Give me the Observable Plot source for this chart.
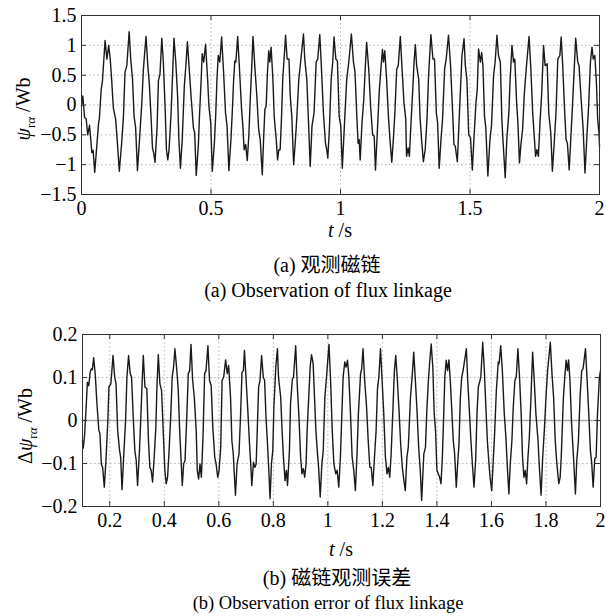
<!DOCTYPE html>
<html><head><meta charset="utf-8">
<script src="https://cdn.jsdelivr.net/npm/d3@7"></script>
<script src="https://cdn.jsdelivr.net/npm/@observablehq/plot@0.6"></script>
<style>
html,body{margin:0;padding:0;background:#fff;}
#root{position:relative;width:607px;height:616px;overflow:hidden;font-family:"Liberation Serif","Times New Roman",serif;color:#000;}
.abs{position:absolute;white-space:nowrap;transform:translate(-50%,-50%);font-size:20px;line-height:1;}
.rot{transform:translate(-50%,-50%) rotate(-90deg);}
.cjk{font-family:"Liberation Serif","Noto Sans CJK SC",serif;}
.sub{font-size:13px;position:relative;top:5px;}
.small{font-size:18.5px;}
.plot{position:absolute;left:0;}
</style></head><body><div id="root"></div>
<script>
// (a) observed flux linkage, [t (s), psi (Wb)]
const fluxPart1 = [[0.000,-0.02],[0.005,0.15],[0.012,-0.21],[0.018,-0.23],[0.024,-0.50],[0.031,-0.34],[0.040,-0.80],[0.045,-0.76],[0.051,-1.13],[0.059,-0.69],[0.066,-0.30],[0.069,-0.23],[0.076,0.26],[0.081,0.41],[0.091,1.08],[0.098,0.77],[0.105,1.00],[0.111,0.77],[0.117,0.38],[0.123,-0.05],[0.132,-0.24],[0.139,-0.66],[0.146,-1.11],[0.155,-0.64],[0.162,-0.19],[0.168,0.55],[0.175,0.66],[0.184,1.23],[0.190,0.77],[0.197,0.43],[0.203,-0.19],[0.209,-0.38],[0.216,-1.10],[0.224,-0.58],[0.233,0.04],[0.239,0.60],[0.249,1.15],[0.256,0.66],[0.262,0.35],[0.269,-0.24],[0.274,-0.72],[0.279,-0.81],[0.284,-0.96],[0.292,-0.35],[0.297,0.41],[0.303,0.52],[0.310,1.12],[0.316,0.72],[0.323,-0.07],[0.328,-0.75],[0.333,-0.92],[0.338,-0.75],[0.346,-0.13],[0.351,0.43],[0.357,1.12],[0.364,0.72],[0.371,0.15],[0.376,-0.58],[0.382,-1.06],[0.389,-0.58],[0.397,0.32],[0.402,0.60],[0.409,1.06],[0.415,0.66],[0.423,0.15],[0.432,-0.38],[0.437,-0.47],[0.443,-1.18],[0.451,-0.69],[0.456,-0.13],[0.461,0.32],[0.466,0.86],[0.472,0.72],[0.479,1.02],[0.487,0.43],[0.492,-0.02],[0.499,-0.30],[0.505,-1.11],[0.513,-0.64],[0.518,-0.19],[0.523,0.43],[0.528,0.83],[0.534,0.72],[0.541,1.14],[0.549,0.52],[0.556,-0.13],[0.562,-0.35],[0.569,-1.10],[0.577,-0.58],[0.582,-0.13],[0.587,0.38],[0.592,0.74],[0.596,0.72],[0.603,1.15],[0.610,0.60],[0.618,-0.07],[0.623,-0.35],[0.628,-0.75],[0.634,-0.66],[0.640,-0.93],[0.646,-0.52],[0.651,0.04],[0.657,0.60],[0.662,1.15]];
const fluxPart2 = [[0.669,0.66],[0.677,0.15],[0.684,-0.41],[0.690,-0.58],[0.698,-1.17],[0.703,-0.58],[0.708,-0.07],[0.713,-0.02],[0.718,0.55],[0.723,0.91],[0.727,0.72],[0.732,0.97],[0.739,0.43],[0.744,-0.19],[0.752,-0.58],[0.757,-0.92],[0.762,-0.75],[0.767,-0.75],[0.772,-0.24],[0.777,0.43],[0.783,0.83],[0.788,1.17],[0.794,0.77],[0.801,0.77],[0.806,0.15],[0.812,-0.19],[0.819,-1.00],[0.826,-0.58],[0.831,-0.24],[0.839,0.43],[0.846,0.72],[0.857,1.19],[0.862,0.77],[0.870,0.43],[0.876,-0.24],[0.883,-1.03],[0.890,-0.35],[0.898,-0.13],[0.906,0.72],[0.912,0.77],[0.920,1.18],[0.926,0.66],[0.934,-0.13],[0.942,-0.64],[0.947,-0.75],[0.951,-0.89],[0.957,-0.41],[0.964,0.43],[0.970,0.72],[0.975,1.14],[0.982,0.77],[0.988,0.74],[0.995,-0.19],[1.001,-0.35],[1.007,-1.06],[1.015,-0.35],[1.024,0.43],[1.032,0.72],[1.042,1.19],[1.050,0.72],[1.056,0.55],[1.063,-0.19],[1.068,-0.64],[1.072,-0.58],[1.076,-0.92],[1.083,-0.30],[1.090,0.10],[1.095,0.57],[1.101,1.05],[1.109,0.60],[1.117,-0.07],[1.124,-0.50],[1.130,-0.52],[1.135,-1.09],[1.142,-0.47],[1.150,0.26],[1.157,0.66],[1.162,0.93],[1.166,0.72],[1.171,0.91],[1.178,0.43],[1.185,-0.19],[1.191,-0.58],[1.198,-0.96],[1.204,-0.58],[1.210,-0.13],[1.217,0.60],[1.223,0.66],[1.231,1.15],[1.237,0.66],[1.245,0.04],[1.252,-0.24],[1.255,-0.86],[1.261,-0.72],[1.266,-0.86],[1.273,-0.24],[1.279,0.26],[1.284,0.72],[1.289,1.01],[1.294,0.66],[1.302,0.43],[1.307,-0.19],[1.313,-0.58],[1.320,-0.95]];
const fluxPart3 = [[1.327,-0.75],[1.334,-0.24],[1.340,0.49],[1.349,1.18],[1.357,0.77],[1.363,0.77],[1.370,-0.13],[1.375,-0.30],[1.381,-1.06],[1.388,-0.58],[1.394,-0.24],[1.402,0.60],[1.408,0.77],[1.417,1.17],[1.425,0.66],[1.433,-0.13],[1.438,-0.66],[1.443,-0.69],[1.451,-0.95],[1.456,-0.47],[1.462,0.15],[1.469,0.83],[1.477,1.11],[1.482,0.66],[1.488,0.43],[1.495,-0.50],[1.502,-0.55],[1.509,-1.09],[1.515,-0.58],[1.523,0.04],[1.528,0.26],[1.533,0.94],[1.540,0.72],[1.545,0.88],[1.550,0.66],[1.556,-0.19],[1.561,-0.38],[1.569,-1.19],[1.577,-0.58],[1.583,-0.35],[1.591,0.49],[1.597,0.72],[1.604,1.17],[1.610,0.83],[1.617,0.72],[1.623,-0.24],[1.628,-0.64],[1.636,-1.22],[1.642,-0.58],[1.650,-0.13],[1.655,0.43],[1.662,1.00],[1.668,0.72],[1.673,0.77],[1.680,0.04],[1.685,-0.30],[1.691,-0.97],[1.696,-0.69],[1.703,-0.41],[1.710,0.21],[1.717,0.60],[1.728,1.15],[1.735,0.60],[1.742,-0.13],[1.748,-0.52],[1.753,-0.86],[1.758,-0.75],[1.764,-0.86],[1.771,-0.24],[1.777,0.21],[1.784,1.00],[1.790,0.66],[1.798,0.69],[1.804,-0.13],[1.812,-0.47],[1.818,-1.11],[1.826,-0.58],[1.832,-0.13],[1.839,0.77],[1.847,0.83],[1.852,1.14],[1.858,0.66],[1.865,-0.07],[1.871,-0.58],[1.876,-0.64],[1.883,-1.09],[1.889,-0.58],[1.895,-0.07],[1.903,0.66],[1.908,1.12],[1.916,0.72],[1.921,0.66],[1.929,0.10],[1.937,-0.41],[1.944,-1.14],[1.952,-0.47],[1.958,-0.02],[1.965,0.72],[1.971,0.97],[1.976,0.77],[1.982,0.83],[1.988,0.38],[1.993,-0.24],[1.998,-0.47],[2.000,-0.70]];

// (b) flux observation error, [t (s), delta psi (Wb)]
const errPart1 = [[0.100,-0.047],[0.103,-0.064],[0.108,-0.031],[0.114,0.039],[0.118,0.089],[0.123,0.081],[0.128,0.112],[0.132,0.120],[0.136,0.118],[0.141,0.146],[0.147,0.105],[0.153,0.039],[0.160,-0.023],[0.164,-0.031],[0.169,-0.101],[0.174,-0.110],[0.180,-0.155],[0.186,-0.093],[0.193,0.000],[0.197,0.078],[0.204,0.085],[0.212,0.151],[0.218,0.101],[0.223,0.085],[0.229,-0.023],[0.236,-0.070],[0.240,-0.085],[0.245,-0.161],[0.251,-0.085],[0.258,0.000],[0.263,0.101],[0.269,0.151],[0.275,0.109],[0.280,0.101],[0.286,0.008],[0.292,-0.070],[0.297,-0.093],[0.302,-0.151],[0.309,-0.070],[0.314,0.008],[0.319,0.093],[0.323,0.151],[0.329,0.078],[0.336,0.074],[0.342,-0.047],[0.347,-0.109],[0.352,-0.116],[0.357,-0.143],[0.363,-0.085],[0.369,-0.016],[0.373,0.078],[0.378,0.153],[0.384,0.085],[0.390,0.070],[0.396,-0.023],[0.402,-0.116],[0.407,-0.147],[0.412,-0.132],[0.417,-0.078],[0.424,0.016],[0.429,0.101],[0.434,0.124],[0.439,0.167],[0.445,0.124],[0.451,0.074],[0.456,-0.016],[0.461,-0.085],[0.466,-0.151],[0.471,-0.101],[0.476,-0.093],[0.483,0.016],[0.488,0.109],[0.493,0.116],[0.498,0.177],[0.504,0.093],[0.510,0.054],[0.517,-0.023],[0.521,-0.116],[0.526,-0.136],[0.531,-0.101],[0.536,-0.132],[0.542,-0.039],[0.548,0.109],[0.553,0.116],[0.560,0.174],[0.566,0.093],[0.572,0.081],[0.578,-0.016],[0.585,-0.085],[0.590,-0.101],[0.596,-0.132],[0.601,-0.116],[0.607,-0.062],[0.612,0.093],[0.618,0.101],[0.625,0.141],[0.631,0.109],[0.636,0.128],[0.643,0.054],[0.648,-0.047],[0.653,-0.078],[0.661,-0.174],[0.667,-0.101],[0.674,-0.078],[0.680,0.016],[0.685,0.112],[0.690,0.116],[0.694,0.163],[0.701,0.085],[0.707,0.016],[0.712,-0.047],[0.717,-0.101],[0.721,-0.151]];
const errPart2 = [[0.727,-0.097],[0.732,-0.109],[0.737,-0.101],[0.741,-0.023],[0.746,0.078],[0.751,0.093],[0.757,0.151],[0.763,0.101],[0.768,0.093],[0.773,0.008],[0.778,-0.047],[0.784,-0.124],[0.788,-0.182],[0.793,-0.101],[0.798,-0.070],[0.802,0.031],[0.809,0.124],[0.815,0.167],[0.819,0.101],[0.827,0.054],[0.832,-0.023],[0.837,-0.085],[0.843,-0.140],[0.848,-0.116],[0.852,-0.151],[0.859,-0.070],[0.863,0.039],[0.870,0.097],[0.874,0.101],[0.882,0.174],[0.888,0.078],[0.894,0.008],[0.900,-0.085],[0.905,-0.124],[0.910,-0.112],[0.915,-0.132],[0.920,-0.101],[0.924,-0.023],[0.931,0.070],[0.935,0.124],[0.940,0.153],[0.946,0.132],[0.951,0.054],[0.956,-0.023],[0.962,-0.078],[0.966,-0.109],[0.972,-0.178],[0.978,-0.101],[0.983,-0.070],[0.989,0.054],[0.995,0.101],[1.004,0.177],[1.010,0.093],[1.016,-0.023],[1.022,-0.101],[1.029,-0.124],[1.034,-0.116],[1.040,-0.155],[1.046,-0.085],[1.051,0.008],[1.056,0.101],[1.062,0.136],[1.067,0.124],[1.072,0.140],[1.077,0.101],[1.083,0.016],[1.089,-0.085],[1.095,-0.116],[1.101,-0.163],[1.107,-0.078],[1.112,0.016],[1.120,0.109],[1.124,0.120],[1.129,0.167],[1.135,0.093],[1.142,0.031],[1.148,-0.047],[1.154,-0.109],[1.159,-0.109],[1.165,-0.151],[1.171,-0.085],[1.177,-0.023],[1.182,0.074],[1.187,0.101],[1.193,0.167],[1.199,0.093],[1.205,0.016],[1.211,-0.085],[1.217,-0.124],[1.222,-0.109],[1.227,-0.132],[1.232,-0.078],[1.238,0.016],[1.244,0.116],[1.249,0.151],[1.255,0.093],[1.261,0.023],[1.267,-0.054],[1.273,-0.109],[1.279,-0.140],[1.284,-0.163],[1.290,-0.085],[1.295,-0.062],[1.303,0.054],[1.309,0.101],[1.315,0.159],[1.321,0.093],[1.327,0.023],[1.333,-0.062],[1.339,-0.116],[1.344,-0.186]];
const errPart3 = [[1.352,-0.078],[1.358,-0.062],[1.363,0.023],[1.368,0.085],[1.373,0.132],[1.379,0.178],[1.385,0.124],[1.390,0.016],[1.395,-0.023],[1.400,-0.116],[1.405,-0.124],[1.410,-0.132],[1.415,-0.147],[1.420,-0.085],[1.425,0.016],[1.429,0.101],[1.434,0.140],[1.439,0.116],[1.444,0.141],[1.449,0.093],[1.454,0.031],[1.460,-0.047],[1.465,-0.078],[1.471,-0.155],[1.476,-0.101],[1.481,-0.054],[1.486,0.054],[1.491,0.101],[1.496,0.116],[1.508,0.167],[1.513,0.093],[1.519,0.023],[1.524,-0.039],[1.530,-0.101],[1.536,-0.155],[1.542,-0.093],[1.547,0.016],[1.552,0.078],[1.561,0.101],[1.568,0.182],[1.574,0.116],[1.579,0.039],[1.585,-0.047],[1.591,-0.101],[1.595,-0.132],[1.601,-0.163],[1.606,-0.101],[1.611,-0.039],[1.618,0.070],[1.625,0.136],[1.628,0.132],[1.634,0.174],[1.640,0.116],[1.647,0.016],[1.653,-0.039],[1.659,-0.116],[1.664,-0.171],[1.669,-0.101],[1.675,-0.047],[1.680,0.031],[1.686,0.093],[1.691,0.101],[1.697,0.167],[1.703,0.101],[1.709,0.016],[1.714,-0.085],[1.719,-0.132],[1.724,-0.116],[1.729,-0.147],[1.734,-0.085],[1.739,-0.039],[1.745,0.054],[1.751,0.159],[1.757,0.093],[1.763,0.016],[1.771,-0.047],[1.775,-0.101],[1.782,-0.174],[1.788,-0.085],[1.794,-0.023],[1.800,0.054],[1.806,0.116],[1.816,0.182],[1.822,0.109],[1.828,0.054],[1.834,-0.047],[1.840,-0.101],[1.847,-0.147],[1.852,-0.132],[1.856,-0.085],[1.864,0.054],[1.869,0.101],[1.874,0.140],[1.879,0.116],[1.883,0.141],[1.888,0.093],[1.894,-0.008],[1.901,-0.085],[1.908,-0.171],[1.913,-0.093],[1.919,-0.047],[1.925,0.054],[1.931,0.116],[1.936,0.120],[1.945,0.167],[1.951,0.093],[1.957,0.016],[1.963,-0.070],[1.968,-0.101],[1.973,-0.155],[1.979,-0.089],[1.984,-0.085],[1.989,0.016],[1.996,0.101],[2.000,0.116]];

// tick values and labels
const xTicksA = [0, 0.5, 1, 1.5, 2];
const xLabelsA = ["0", "0.5", "1", "1.5", "2"];
const yTicksA = [-1.5, -1, -0.5, 0, 0.5, 1, 1.5];
const yLabelsA = ["\u22121.5", "\u22121", "\u22120.5", "0", "0.5", "1", "1.5"];
const xTicksB = [0.2, 0.4, 0.6, 0.8, 1, 1.2, 1.4, 1.6, 1.8, 2];
const xLabelsB = ["0.2", "0.4", "0.6", "0.8", "1", "1.2", "1.4", "1.6", "1.8", "2"];
const yTicksB = [-0.2, -0.1, 0, 0.1, 0.2];
const yLabelsB = ["\u22120.2", "\u22120.1", "0", "0.1", "0.2"];

const fmt = (ticks, labels) => d => labels[ticks.findIndex(t => Math.abs(t - d) < 1e-9)] ?? "";
const toRows = parts => parts.flat().map(([t, v]) => ({t, v}));

function panel({rows, xDomain, yDomain, xTicks, xLabels, yTicks, yLabels, height, mt, mb, ml, mr, zeroSolid}) {
  const W = 607, ph = height - mt - mb, pw = W - ml - mr, tl = 5;
  const gridX = xTicks.filter(d => d > xDomain[0] && d < xDomain[1]);
  const gridY = yTicks.filter(d => d > yDomain[0] && d < yDomain[1]);
  const dotted = {stroke: "#b4b4b4", strokeWidth: 1, strokeDasharray: "1.5,2.5"};
  return Plot.plot({
    width: W, height, marginTop: mt, marginBottom: mb, marginLeft: ml, marginRight: mr,
    style: {fontFamily: "'Liberation Serif','Times New Roman',serif", fontSize: "20px", color: "#000", background: "#fff", overflow: "visible"},
    x: {domain: xDomain, ticks: xTicks, tickFormat: fmt(xTicks, xLabels), tickSize: 0, tickPadding: 6, label: null},
    y: {domain: yDomain, ticks: yTicks, tickFormat: fmt(yTicks, yLabels), tickSize: 0, tickPadding: 5, label: null},
    marks: [
      Plot.ruleX(gridX, dotted),
      Plot.ruleY(gridY.filter(d => !(zeroSolid && d === 0)), dotted),
      zeroSolid ? Plot.ruleY([0], {stroke: "#aaa", strokeWidth: 1.3}) : null,
      Plot.line(rows, {x: "t", y: "v", stroke: "#1a1a1a", strokeWidth: 1.4, curve: "linear"}),
      Plot.tickX(xTicks, {insetTop: ph - tl, stroke: "#333"}),
      Plot.tickX(xTicks, {insetBottom: ph - tl, stroke: "#333"}),
      Plot.tickY(yTicks, {insetRight: pw - tl, stroke: "#333"}),
      Plot.tickY(yTicks, {insetLeft: pw - tl, stroke: "#333"}),
      Plot.frame({stroke: "#333", strokeWidth: 1})
    ]
  });
}

const root = document.getElementById("root");
function place(node, top) {
  const d = document.createElement("div");
  d.className = "plot"; d.style.top = top + "px";
  d.appendChild(node); root.appendChild(d);
}
function label(html, x, y, cls = "") {
  const d = document.createElement("div");
  d.className = "abs " + cls; d.style.left = x + "px"; d.style.top = y + "px";
  d.innerHTML = html; root.appendChild(d);
}

place(panel({rows: toRows([fluxPart1, fluxPart2, fluxPart3]), xDomain: [0, 2], yDomain: [-1.5, 1.5],
  xTicks: xTicksA, xLabels: xLabelsA, yTicks: yTicksA, yLabels: yLabelsA,
  height: 240, mt: 15, mb: 46, ml: 81, mr: 8, zeroSolid: false}), 0);
place(panel({rows: toRows([errPart1, errPart2, errPart3]), xDomain: [0.1, 2], yDomain: [-0.2, 0.2],
  xTicks: xTicksB, xLabels: xLabelsB, yTicks: yTicksB, yLabels: yLabelsB,
  height: 220, mt: 14, mb: 34, ml: 82, mr: 7, zeroSolid: true}), 320);

label('<i>ψ</i><span class="sub">r<i>α</i></span> /Wb', 23, 109, "rot");
label('Δ<i>ψ</i><span class="sub">r<i>α</i></span> /Wb', 25, 426, "rot");
label('<i>t</i> /s', 340, 230);
label('<i>t</i> /s', 341, 549);
label('(a) 观测磁链', 327, 265, "cjk");
label('(a) Observation of flux linkage', 328, 290);
label('(b) 磁链观测误差', 337, 578, "cjk");
label('(b) Observation error of flux linkage', 328, 603, "small");
</script></body></html>
